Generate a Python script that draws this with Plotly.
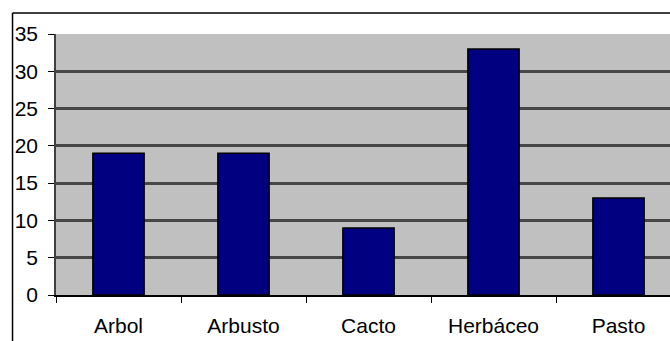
import plotly.graph_objects as go

# Plant-type counts
categories = ["Arbol", "Arbusto", "Cacto", "Herbáceo", "Pasto"]
values = [19, 19, 9, 33, 13]
y_ticks = [0, 5, 10, 15, 20, 25, 30, 35]

fig = go.Figure(
    go.Bar(
        x=categories,
        y=values,
        width=0.41,
        marker=dict(color="#000080", line=dict(color="#000000", width=1.5)),
    )
)

fig.update_layout(
    width=670,
    height=341,
    margin=dict(l=56, r=0, t=34, b=46),
    paper_bgcolor="#ffffff",
    plot_bgcolor="#c0c0c0",
    showlegend=False,
    font=dict(family="Liberation Sans, Arial, sans-serif", size=21, color="#000000"),
    xaxis=dict(
        type="category",
        range=[-0.5, 4.412],
        tickson="boundaries",
        ticks="outside",
        ticklen=6,
        tickwidth=1,
        tickcolor="#000000",
        showline=True,
        linecolor="#000000",
        linewidth=1.5,
        showgrid=False,
        ticklabelstandoff=11,
        tickfont=dict(size=21),
    ),
    yaxis=dict(
        range=[0, 35],
        tickvals=y_ticks,
        ticks="outside",
        ticklen=6,
        tickwidth=1,
        tickcolor="#000000",
        showline=True,
        linecolor="#404040",
        linewidth=1.5,
        showgrid=True,
        gridcolor="#474747",
        gridwidth=2.5,
        zeroline=False,
        ticklabelstandoff=6,
        tickfont=dict(size=21),
    ),
    shapes=[
        # chart frame: top and left edges
        dict(type="line", xref="paper", yref="paper",
             x0=-0.0708, x1=1.05, y0=1.0805, y1=1.0805,
             line=dict(color="#000000", width=1.5)),
        dict(type="line", xref="paper", yref="paper",
             x0=-0.0708, x1=-0.0708, y0=1.0805, y1=-0.25,
             line=dict(color="#000000", width=1.5)),
    ],
)

fig.write_html("out.html")
